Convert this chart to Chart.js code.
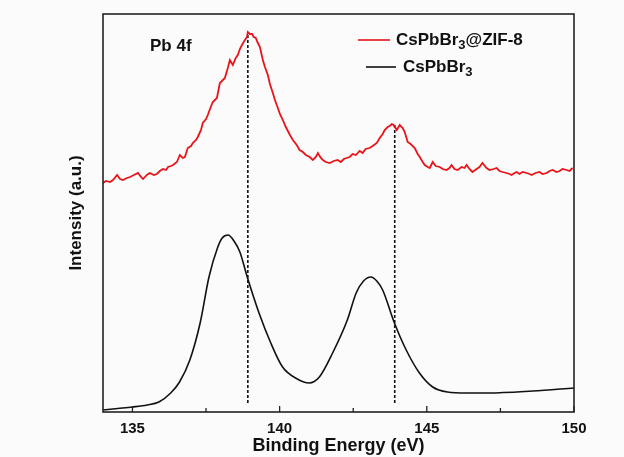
<!DOCTYPE html>
<html>
<head>
<meta charset="utf-8">
<script src="https://cdn.jsdelivr.net/npm/chart.js@4.4.0/dist/chart.umd.min.js"></script>
<style>
  html, body { margin: 0; padding: 0; background: #fbfbfb; }
  #wrap { width: 624px; height: 457px; }
</style>
</head>
<body>
<div id="wrap"><canvas id="xps"></canvas></div>
<script>
// binding energy (eV) / intensity (a.u.)
let zifEnergy = [134.00,134.10,134.24,134.34,134.48,134.58,134.68,134.81,134.92,135.05,135.19,135.29,135.36,135.49,135.59,135.73,135.83,135.93,136.04,136.14,136.21,136.31,136.38,136.51,136.61,136.71,136.78,136.88,136.99,137.05,137.16,137.22,137.33,137.39,137.50,137.56,137.66,137.73,137.80,137.87,137.97,138.04,138.14,138.24,138.31,138.41,138.51,138.58,138.65,138.72,138.82,138.89,138.92,138.99,139.06,139.12,139.19,139.26,139.33,139.43,139.50,139.60,139.67,139.77,139.84,139.94,140.01,140.11,140.21,140.35,140.45,140.58,140.68,140.79,140.89,141.02,141.13,141.23,141.30,141.40,141.47,141.57,141.70,141.84,141.97,142.08,142.18,142.28,142.38,142.48,142.59,142.72,142.82,142.92,143.06,143.16,143.30,143.40,143.50,143.57,143.67,143.74,143.81,143.87,143.98,144.08,144.18,144.25,144.35,144.45,144.59,144.69,144.76,144.86,144.93,145.03,145.10,145.20,145.30,145.44,145.54,145.67,145.77,145.84,145.94,146.05,146.18,146.28,146.35,146.45,146.55,146.69,146.79,146.89,147.03,147.13,147.27,147.37,147.47,147.57,147.71,147.81,147.88,147.98,148.05,148.15,148.25,148.39,148.49,148.56,148.69,148.83,148.93,149.07,149.17,149.27,149.41,149.51,149.61,149.75,149.85,149.95];
let zifIntensity = [229,231,230,232,237,233,232,234,235,237,239,235,233,237,239,237,238,241,243,242,245,246,247,250,257,254,255,264,266,269,272,275,282,289,293,297,305,310,312,314,329,331,334,344,352,347,354,357,363,367,372,375,380,378,378,375,374,369,365,352,345,337,328,319,312,304,298,292,285,277,272,267,262,260,257,255,252,255,259,254,252,250,249,251,252,250,253,254,255,258,257,261,259,263,264,266,269,274,278,282,285,286,288,287,282,287,284,280,270,268,264,258,255,250,247,245,244,250,246,245,243,242,244,247,243,242,245,244,247,243,240,243,245,249,244,242,243,244,241,240,239,238,237,239,240,238,240,239,238,237,239,240,238,239,241,242,240,241,243,242,241,244];

let pureEnergy = [134.0,134.5,135.0,135.5,135.9,136.3,136.6,136.95,137.3,137.6,137.9,138.05,138.25,138.45,138.65,138.9,139.3,139.7,140.1,140.6,141.0,141.35,141.8,142.3,142.6,142.85,143.1,143.3,143.5,143.9,144.3,144.75,145.2,145.7,146.35,147.1,148.6,150.0];
let pureIntensity = [2,3.5,5,7,10,19,30,52,89,135,165,174,177,171,160,135,99,69,45,33,29,35,59,92,119,131,135,131,122,89,62,39,25,20,19,19,21,24];

// peak markers
let peakLines = [138.92, 143.91];
let peakTops = [380, 287];

let majorTicks = [135, 140, 145, 150];
let minorTicks = [137.5, 142.5, 147.5];

const FONT = "'Liberation Sans', Arial, sans-serif";

function toPoints(xs, ys) {
  return xs.map((x, i) => ({ x: x, y: ys[i] }));
}

let markerSets = peakLines.map((e, i) => ({
  data: [{ x: e, y: 9 }, { x: e, y: peakTops[i] }],
  borderColor: "#111",
  borderWidth: 1.6,
  borderDash: [3, 2],
  pointRadius: 0,
  showLine: true,
}));

//draws the frame, inward ticks, panel label and legend
const decorations = {
  id: "decorations",
  afterDraw(chart) {
    const ctx = chart.ctx;
    const a = chart.chartArea;
    const xs = chart.scales.x;
    ctx.save();
    ctx.strokeStyle = "#222";
    ctx.lineWidth = 1.6;
    ctx.strokeRect(a.left, a.top, a.right - a.left, a.bottom - a.top);

    ctx.lineWidth = 1.3;
    majorTicks.forEach((v) => {
      let px = xs.getPixelForValue(v);
      ctx.beginPath();
      ctx.moveTo(px, a.bottom);
      ctx.lineTo(px, a.bottom - 6);
      ctx.stroke();
    });
    minorTicks.forEach((v) => {
      let px = xs.getPixelForValue(v);
      ctx.beginPath();
      ctx.moveTo(px, a.bottom);
      ctx.lineTo(px, a.bottom - 4);
      ctx.stroke();
    });

    ctx.fillStyle = "#111";
    ctx.textBaseline = "middle";
    ctx.font = "bold 17px " + FONT;
    ctx.fillText("Pb 4f", 150, 46);

    // legend
    let rows = [
      { color: "#e8141a", x1: 358, x2: 390, y: 40, tx: 396, after: "@ZIF-8" },
      { color: "#111", x1: 366, x2: 396, y: 67, tx: 403, after: "" },
    ];
    rows.forEach((r) => {
      ctx.strokeStyle = r.color;
      ctx.lineWidth = 1.6;
      ctx.beginPath();
      ctx.moveTo(r.x1, r.y);
      ctx.lineTo(r.x2, r.y);
      ctx.stroke();
      ctx.fillStyle = "#111";
      ctx.font = "bold 17px " + FONT;
      ctx.fillText("CsPbBr", r.tx, r.y);
      let w = ctx.measureText("CsPbBr").width;
      ctx.font = "bold 13px " + FONT;
      ctx.fillText("3", r.tx + w, r.y + 5);
      let w3 = ctx.measureText("3").width;
      if (r.after) {
        ctx.font = "bold 17px " + FONT;
        ctx.fillText(r.after, r.tx + w + w3, r.y);
      }
    });
    ctx.restore();
  },
};

const ctx = document.getElementById("xps").getContext("2d");
const xpsChart = new Chart(ctx, {
  type: "scatter",
  data: {
    datasets: [
      {
        label: "CsPbBr3@ZIF-8",
        data: toPoints(zifEnergy, zifIntensity),
        borderColor: "#e8141a",
        borderWidth: 1.8,
        pointRadius: 0,
        showLine: true,
        tension: 0,
      },
      {
        label: "CsPbBr3",
        data: toPoints(pureEnergy, pureIntensity),
        borderColor: "#111",
        borderWidth: 1.6,
        pointRadius: 0,
        showLine: true,
        tension: 0.4,
        cubicInterpolationMode: "monotone",
      },
      ...markerSets,
    ],
  },
  options: {
    responsive: true,
    maintainAspectRatio: false,
    animation: false,
    layout: { padding: { top: 14, right: 50, left: 0, bottom: 0 } },
    plugins: { legend: { display: false }, tooltip: { enabled: false } },
    scales: {
      x: {
        type: "linear",
        min: 134,
        max: 150,
        afterBuildTicks: (scale) => {
          scale.ticks = majorTicks.map((v) => ({ value: v }));
        },
        afterFit: (scale) => {
          scale.height = 45;
        },
        grid: { display: false, drawTicks: false },
        border: { display: false },
        ticks: {
          padding: 8,
          color: "#111",
          font: { family: FONT, size: 15, weight: "bold" },
        },
        title: {
          display: true,
          text: "Binding Energy (eV)",
          color: "#111",
          padding: { top: 0, bottom: 0 },
          font: { family: FONT, size: 18, weight: "bold" },
        },
      },
      y: {
        type: "linear",
        min: 0,
        max: 398,
        afterFit: (scale) => {
          scale.width = 103;
        },
        grid: { display: false, drawTicks: false },
        border: { display: false },
        ticks: { display: false },
        title: {
          display: true,
          text: "Intensity (a.u.)",
          color: "#111",
          padding: { top: 66, bottom: 0 },
          font: { family: FONT, size: 17, weight: "bold" },
        },
      },
    },
  },
  plugins: [decorations],
});
</script>
</body>
</html>
